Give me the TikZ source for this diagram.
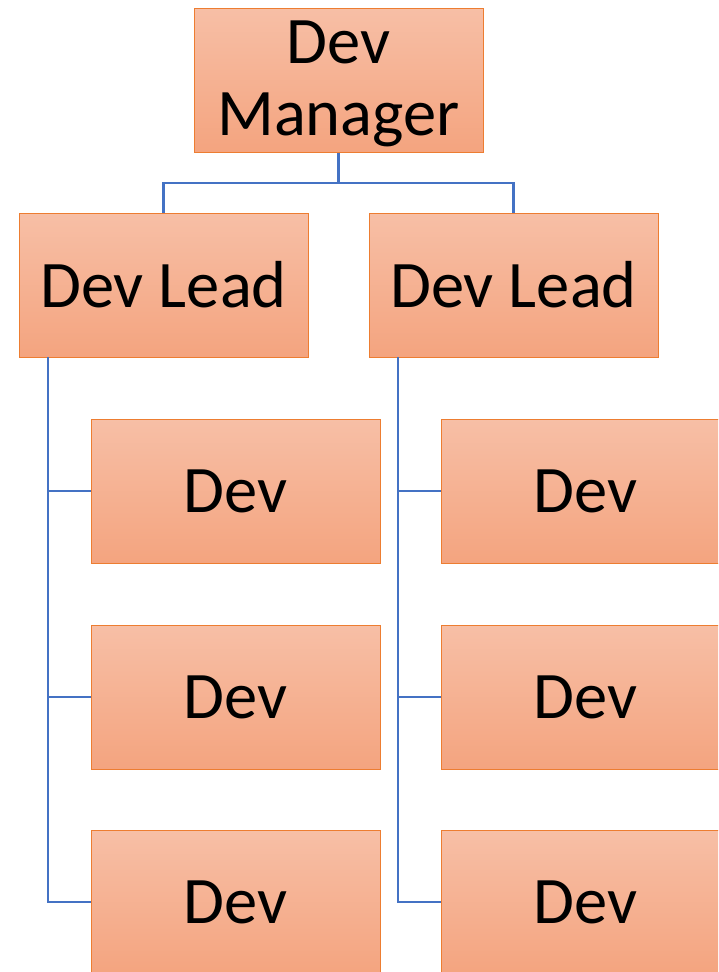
\documentclass[tikz,border=0pt]{standalone}
\usepackage{fontspec}
\setmainfont{Carlito}
\definecolor{boxtop}{HTML}{F7BFA6}
\definecolor{boxbot}{HTML}{F4A47F}
\definecolor{boxline}{HTML}{ED7D31}
\definecolor{conn}{HTML}{4472C4}
\begin{document}
\begin{tikzpicture}[x=1pt,y=-1pt,
  orgbox/.style={draw=boxline, line width=1pt, top color=boxtop, bottom color=boxbot,
    minimum width=289pt, minimum height=144pt, inner sep=0pt, anchor=center,
    font=\fontsize{66.5}{72}\selectfont, align=center},
  link/.style={draw=conn, line width=2.4pt}]
\useasboundingbox (0,0) rectangle (718,972);
\clip (0,0) rectangle (718,972);
\node[orgbox] (mgr) at (338.5,80) {};
\node[font=\fontsize{66.5}{72}\selectfont, align=center, inner sep=0pt] (mgrtext) at (338.5,84) {Dev\\Manager};
\node[orgbox] (leadL) at (163.5,285) {Dev Lead};
\node[orgbox] (leadR) at (513.5,285) {Dev Lead};
\node[orgbox] (d1) at (235.5,491) {Dev};
\node[orgbox] (d2) at (235.5,697) {Dev};
\node[orgbox] (d3) at (235.5,902) {Dev};
\node[orgbox] (d4) at (585.5,491) {Dev};
\node[orgbox] (d5) at (585.5,697) {Dev};
\node[orgbox] (d6) at (585.5,902) {Dev};
\coordinate (bus) at (338.5,183);
\coordinate (spL) at (48,357);
\coordinate (spR) at (398,357);
\draw[link] (mgr.south) -- (bus) -| (leadL.north);
\draw[link] (bus) -| (leadR.north);
\draw[link] (spL) |- (d3.west);
\draw[link] (spL |- d1.west) -- (d1.west);
\draw[link] (spL |- d2.west) -- (d2.west);
\draw[link] (spR) |- (d6.west);
\draw[link] (spR |- d4.west) -- (d4.west);
\draw[link] (spR |- d5.west) -- (d5.west);
\end{tikzpicture}
\end{document}
